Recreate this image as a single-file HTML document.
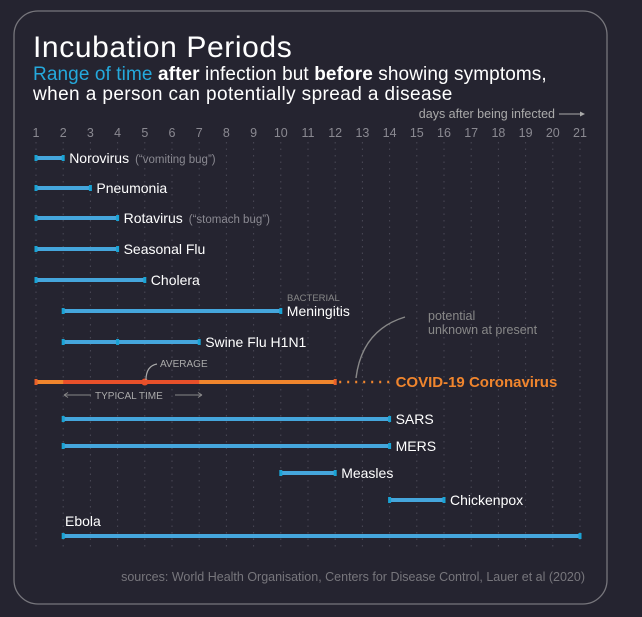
<!DOCTYPE html>
<html><head><meta charset="utf-8"><style>
html,body{margin:0;padding:0;background:#252430;}
svg{display:block;font-family:"Liberation Sans",sans-serif;}
</style></head><body>
<svg id="chart" width="642" height="617" viewBox="0 0 642 617">
<rect x="0" y="0" width="642" height="617" fill="#252430"/>
<rect x="14" y="11" width="593" height="593" rx="24" fill="none" stroke="#77767c" stroke-width="1.3"/>
<text x="33" y="57" fill="#fff" font-size="30" letter-spacing="0.6">Incubation Periods</text>
<text x="33" y="80" fill="#fff" font-size="19" letter-spacing="0.1"><tspan fill="#25a9dc">Range of time</tspan> <tspan font-weight="bold">after</tspan> infection but <tspan font-weight="bold">before</tspan> showing symptoms,</text>
<text x="33" y="100" fill="#fff" font-size="19" letter-spacing="0.4">when a person can potentially spread a disease</text>
<text x="555" y="118" text-anchor="end" fill="#aaa" font-size="12.5">days after being infected</text>
<line x1="559" y1="114" x2="584" y2="114" stroke="#aaa" stroke-width="1"/>
<polygon points="585,114 580,111.5 580,116.5" fill="#aaa"/>
<g id="grid"></g><g id="ticks"></g><g id="bars"></g>
<text x="287" y="301" fill="#888" font-size="9.5">BACTERIAL</text>
<text x="160" y="367" fill="#aaa" font-size="10">AVERAGE</text>
<path d="M146 380 Q146 366 157 364" fill="none" stroke="#aaa" stroke-width="1.2"/>
<text x="95" y="399" fill="#aaa" font-size="10">TYPICAL TIME</text>
<path d="M64 395 H91 M64 395 l4 -2.5 M64 395 l4 2.5" stroke="#888" fill="none"/>
<path d="M175 395 H202 M202 395 l-4 -2.5 M202 395 l-4 2.5" stroke="#888" fill="none"/>
<path d="M356 378 Q362 330 405 317" fill="none" stroke="#888" stroke-width="1.4"/>
<text x="428" y="320" fill="#888" font-size="12.5">potential</text>
<text x="428" y="334" fill="#888" font-size="12.5">unknown at present</text>
<text x="585" y="581" text-anchor="end" fill="#77767c" font-size="12.5">sources: World Health Organisation, Centers for Disease Control, Lauer et al (2020)</text>
</svg>
<script>
const days = [1,2,3,4,5,6,7,8,9,10,11,12,13,14,15,16,17,18,19,20,21];
const diseases = ["Norovirus","Pneumonia","Rotavirus","Seasonal Flu","Cholera","Meningitis","Swine Flu H1N1","COVID-19 Coronavirus","SARS","MERS","Measles","Chickenpox","Ebola"];
const notes = ["(\u201cvomiting bug\u201d)","","(\u201cstomach bug\u201d)","","","","","","","","","",""];
const startDay = [1,1,1,1,1,2,2,1,2,2,10,14,2];
const endDay = [2,3,4,4,5,10,7,12,14,14,12,16,21];
const covidUnknownEnd = 14;
const covidTypical = [2,7];
const covidAverage = 5;
const swineMid = 4;
const NS="http://www.w3.org/2000/svg";
const rowY=[158,188,218,249,280,311,342,382,419,446,473,500,536];
const x=d=>36+(d-1)*27.2;
function mk(t,a,p){const e=document.createElementNS(NS,t);for(const k in a)e.setAttribute(k,a[k]);p.appendChild(e);return e;}
const grid=document.getElementById('grid'),ticks=document.getElementById('ticks'),bars=document.getElementById('bars');
days.forEach(d=>{
 const l=mk('line',{x1:x(d),x2:x(d),y1:142,y2:548,stroke:'#4a4956','stroke-width':1,'stroke-dasharray':'1.5 5'},grid);
 
 
 const t=mk('text',{x:x(d),y:137,'text-anchor':'middle',fill:'#8a8991','font-size':12.5},ticks);
 t.textContent=d;
 
 
});
diseases.forEach((n,i)=>{
 const y=rowY[i],x1=x(startDay[i]),x2=x(endDay[i]);
 const covid=i===7;
 const col=covid?'#f0852d':'#45a6dc';
 const b=mk('line',{x1:x1,x2:x2,y1:y,y2:y,stroke:col,'stroke-width':4},bars);
 
 
 [x1,x2].forEach(cx=>{const c=mk('rect',{x:cx-1.5,y:y-3,width:3,height:6,fill:covid?'#e8602a':'#1aa3d4'},bars);
  
  });
 let lx=x2+6,ly=y+5;
 if(covid){
  const dl=mk('line',{x1:x2+4,x2:x(covidUnknownEnd),y1:y,y2:y,stroke:col,'stroke-width':2.5,'stroke-dasharray':'2 6'},bars);
  
  
  const tr=mk('line',{x1:x(covidTypical[0]),x2:x(covidTypical[1]),y1:y,y2:y,stroke:'#e8502a','stroke-width':4},bars);
  
  
  const av=mk('circle',{cx:x(covidAverage),cy:y,r:3.5,fill:'#e8502a'},bars);
  
  
  lx=x(covidUnknownEnd)+6;
 }
 if(i===6){const m=mk('rect',{x:x(swineMid)-1.5,y:y-3,width:3,height:6,fill:'#1aa3d4'},bars);
  
  }
 if(i===12){lx=65;ly=y-10;}
 const t=mk('text',{x:lx,y:ly,fill:covid?'#f0852d':'#fff','font-size':covid?15:14,'font-weight':covid?'bold':'normal'},bars);
 t.textContent=n;
 
 
 if(notes[i]){const s=document.createElementNS(NS,'tspan');s.setAttribute('fill','#8a8991');s.setAttribute('font-size','11.5');s.setAttribute('dx','6');s.textContent=notes[i];t.appendChild(s);}
});
</script>
</body></html>
